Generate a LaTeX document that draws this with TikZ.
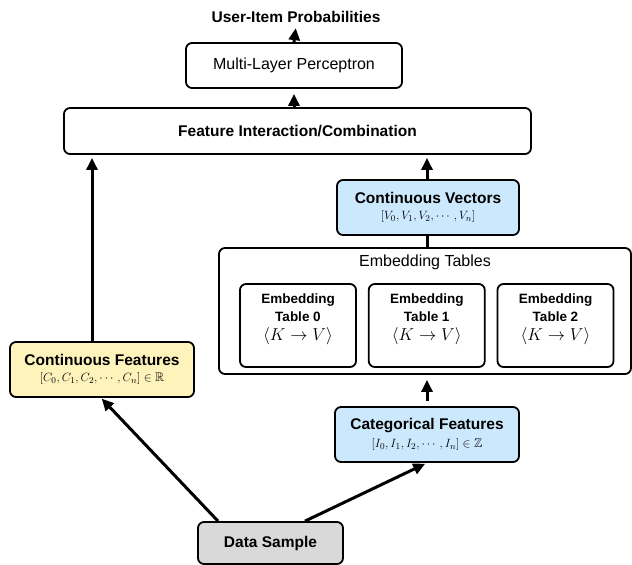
\documentclass[tikz,border=0pt]{standalone}
\usepackage{amsmath}
\usepackage{amssymb}
\usepackage{fontspec}
\setmainfont{Liberation Sans}
\usetikzlibrary{positioning, arrows.meta, calc}

\definecolor{vangnhat}{RGB}{253,243,187}
\definecolor{xanhnhat}{RGB}{204,232,253}
\definecolor{xamnhat}{RGB}{217,217,217}

\begin{document}
\begin{tikzpicture}[
    % Don vi: 1 diem anh = 1pt, truc y huong xuong
    x=1pt, y=-1pt,
    % Khung chung (vien dam, bo goc)
    box/.style={draw, line width=1.8pt, rounded corners=6pt, inner sep=0pt, align=center},
    % Mui ten dam
    muiten/.style={-{Triangle[length=12pt,width=11pt]}, line width=3pt},
    % Cac co chu
    chudam/.style={font=\fontsize{15.5}{18}\selectfont\bfseries},
    chuthuong/.style={font=\fontsize{16}{19}\selectfont},
    chubang/.style={font=\fontsize{13.5}{18}\selectfont\bfseries, align=center}
]
\useasboundingbox (0,0) rectangle (632,565);

% Tang tren cung
\node[chudam] (uip) at (296,17) {User-Item Probabilities};
\node[box, chuthuong, minimum width=216pt, minimum height=45pt] (mlp) at (294,65.5) {Multi-Layer Perceptron};
\node[box, chudam, minimum width=467pt, minimum height=46pt] (fi) at (297.5,131) {Feature Interaction/Combination};

% Nhanh phai: vector lien tuc
\node[box, fill=xanhnhat, minimum width=182pt, minimum height=55pt] (cv) at (428,207.5)
    {{\fontsize{15.5}{18}\selectfont\bfseries Continuous Vectors}\\[4pt]
     {\fontsize{12.5}{14}\selectfont $[V_0, V_1, V_2, \cdots, V_n]$}};

% Khung bang nhung
\node[box, minimum width=412pt, minimum height=126pt] (et) at (425,311) {};
\node[chuthuong] (ettitle) at (425,262) {Embedding Tables};
\foreach \i in {0,1,2} {
    \node[box, minimum width=116pt, minimum height=83pt] (bang\i) at ({298+128.75*\i},325.5) {};
    \node[chubang] (chu\i) at ([yshift=6pt]bang\i.center)
        {Embedding\\Table \i\\[1pt] {\fontsize{16}{18}\selectfont $\langle K \to V\rangle$}};
}

% Dac trung dau vao
\node[box, fill=vangnhat, minimum width=184pt, minimum height=55pt] (cf) at (102,369.5)
    {{\fontsize{15.5}{18}\selectfont\bfseries Continuous Features}\\[4pt]
     {\fontsize{12.5}{14}\selectfont $[C_0, C_1, C_2, \cdots, C_n] \in \mathbb{R}$}};
\node[box, fill=xanhnhat, minimum width=184pt, minimum height=55pt] (catf) at (427,434.5)
    {{\fontsize{15.5}{18}\selectfont\bfseries Categorical Features}\\[4pt]
     {\fontsize{12.5}{14}\selectfont $[I_0, I_1, I_2, \cdots, I_n] \in \mathbb{Z}$}};

% Mau du lieu
\node[box, chudam, fill=xamnhat, minimum width=145pt, minimum height=42pt] (ds) at (270.5,543) {Data Sample};

% Cac mui ten
\draw[muiten, shorten >=2pt] (mlp.north) -- (uip.south);
\draw[muiten, shorten >=5pt] (fi.north -| mlp) -- (mlp.south);
\draw[muiten, shorten >=3pt] ([xshift=-10pt]cf.north) -- ([xshift=-10pt]cf.north |- fi.south);
\draw[muiten, shorten >=3pt] ([xshift=-1pt]cv.north) -- ([xshift=-1pt]cv.north |- fi.south);
\draw[line width=3pt] ([xshift=-1pt]cv.south) -- ([xshift=-1pt]cv.south |- et.north);
\draw[muiten, shorten <=5pt, shorten >=5pt] (catf.north) -- (catf.north |- et.south);
\draw[muiten, shorten >=1pt] ([xshift=-52.5pt]ds.north) -- ([xshift=-1pt]cf.south);
\draw[muiten, shorten >=2pt] ([xshift=34.5pt]ds.north) -- (catf.south);

\end{tikzpicture}
\end{document}
